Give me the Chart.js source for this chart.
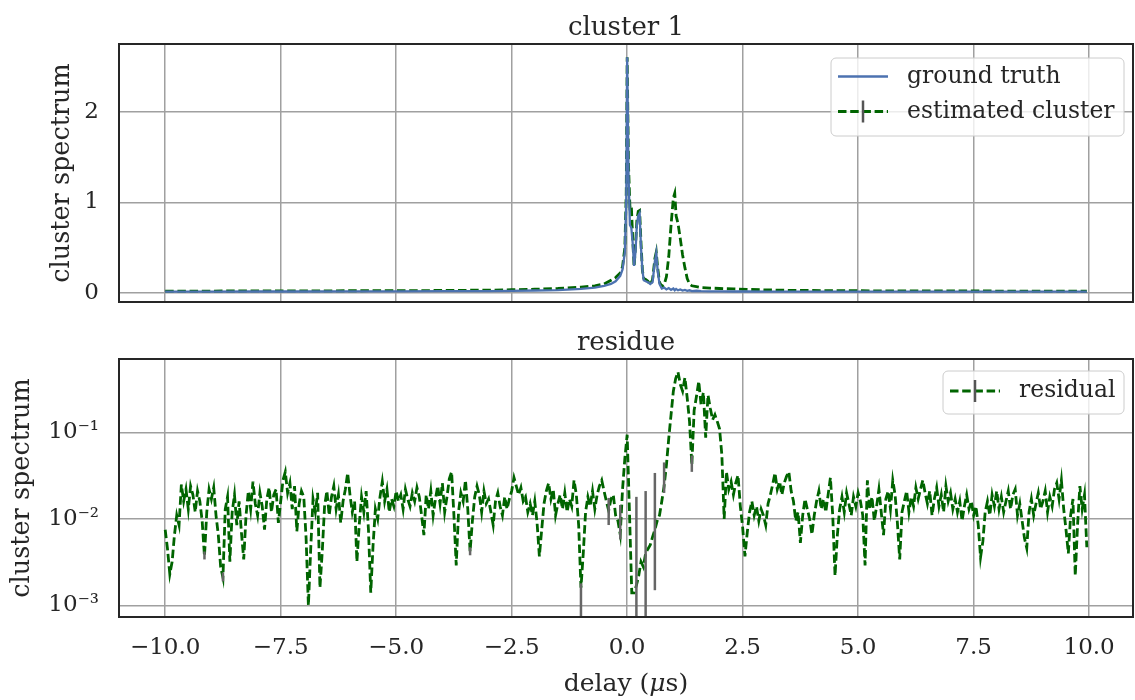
<!DOCTYPE html>
<html><head><meta charset="utf-8">
<script src="https://cdn.jsdelivr.net/npm/chart.js@4.4.0/dist/chart.umd.min.js"></script>
<style>
html,body{margin:0;padding:0;background:#fff;}
#wrap{position:relative;width:1135px;height:700px;overflow:hidden;}
canvas{position:absolute;left:0;}
</style></head><body>
<div id="wrap">
<canvas id="c1" width="1135" height="320" style="top:0;width:1135px;height:320px"></canvas>
<canvas id="c2" width="1135" height="380" style="top:320px;width:1135px;height:380px"></canvas>
</div>
<script>
// ---------------- data ----------------
const xTicks = [-10, -7.5, -5, -2.5, 0, 2.5, 5, 7.5, 10];
const topYTicks = [0, 1, 2];
const resYTicks = [0.001, 0.01, 0.1];
const resYTickLabels = ['10\u207B\u00B3', '10\u207B\u00B2', '10\u207B\u00B9'];

const clusterX = [-10, -9, -8, -7, -6, -5, -4, -3, -2.5, -2, -1.5, -1, -0.7, -0.5, -0.35, -0.25, -0.15, -0.1, -0.05, -0.02,
  0, 0.03, 0.06, 0.09, 0.12, 0.15, 0.18, 0.21, 0.24, 0.27, 0.3, 0.33, 0.36, 0.4, 0.45, 0.5, 0.55, 0.6, 0.63, 0.66,
  0.7, 0.75, 0.8, 0.85, 0.9, 0.95, 1.0, 1.03, 1.06, 1.1, 1.15, 1.2, 1.25, 1.3, 1.35, 1.4, 1.5, 1.6, 1.8, 2.0,
  2.3, 2.6, 3, 3.5, 4, 5, 6, 7, 8, 9, 9.95];
const groundTruth = [0.016, 0.016, 0.017, 0.017, 0.018, 0.019, 0.02, 0.022, 0.024, 0.028, 0.033, 0.045, 0.06, 0.08, 0.1, 0.13, 0.19, 0.26, 0.45, 1.0,
  2.6, 1.3, 0.75, 0.72, 0.55, 0.3, 0.45, 0.75, 0.85, 0.88, 0.5, 0.25, 0.14, 0.13, 0.12, 0.1, 0.12, 0.35, 0.44, 0.25,
  0.1, 0.05, 0.06, 0.04, 0.055, 0.035, 0.05, 0.03, 0.045, 0.03, 0.04, 0.028, 0.035, 0.025, 0.03, 0.022, 0.025, 0.02, 0.019, 0.018,
  0.017, 0.017, 0.016, 0.016, 0.016, 0.016, 0.016, 0.016, 0.016, 0.016, 0.016];
const estimatedCluster = [0.022, 0.022, 0.023, 0.024, 0.025, 0.026, 0.028, 0.032, 0.036, 0.042, 0.05, 0.065, 0.08, 0.1, 0.14, 0.17, 0.22, 0.29, 0.5, 1.1,
  2.6, 1.4, 0.95, 0.97, 0.6, 0.29, 0.5, 0.8, 0.9, 0.91, 0.55, 0.25, 0.16, 0.15, 0.13, 0.09, 0.15, 0.38, 0.45, 0.28,
  0.12, 0.07, 0.09, 0.18, 0.4, 0.75, 1.05, 1.1, 0.85, 0.77, 0.6, 0.42, 0.28, 0.16, 0.1, 0.08, 0.07, 0.06, 0.055, 0.05,
  0.045, 0.04, 0.035, 0.03, 0.028, 0.025, 0.024, 0.023, 0.022, 0.022, 0.022];

const residueX = [
  -10.00, -9.95, -9.90, -9.85, -9.80, -9.75, -9.70, -9.65, -9.60, -9.55, -9.50, -9.45, -9.40, -9.35, -9.30, -9.25, -9.20, -9.15, -9.10, -9.05,
  -9.00, -8.95, -8.90, -8.85, -8.80, -8.75, -8.70, -8.65, -8.60, -8.55, -8.50, -8.45, -8.40, -8.35, -8.30, -8.25, -8.20, -8.15, -8.10, -8.05,
  -8.00, -7.95, -7.90, -7.85, -7.80, -7.75, -7.70, -7.65, -7.60, -7.55, -7.50, -7.45, -7.40, -7.35, -7.30, -7.25, -7.20, -7.15, -7.10, -7.05,
  -7.00, -6.95, -6.90, -6.85, -6.80, -6.75, -6.70, -6.65, -6.60, -6.55, -6.50, -6.45, -6.40, -6.35, -6.30, -6.25, -6.20, -6.15, -6.10, -6.05,
  -6.00, -5.95, -5.90, -5.85, -5.80, -5.75, -5.70, -5.65, -5.60, -5.55, -5.50, -5.45, -5.40, -5.35, -5.30, -5.25, -5.20, -5.15, -5.10, -5.05,
  -5.00, -4.95, -4.90, -4.85, -4.80, -4.75, -4.70, -4.65, -4.60, -4.55, -4.50, -4.45, -4.40, -4.35, -4.30, -4.25, -4.20, -4.15, -4.10, -4.05,
  -4.00, -3.95, -3.90, -3.85, -3.80, -3.75, -3.70, -3.65, -3.60, -3.55, -3.50, -3.45, -3.40, -3.35, -3.30, -3.25, -3.20, -3.15, -3.10, -3.05,
  -3.00, -2.95, -2.90, -2.85, -2.80, -2.75, -2.70, -2.65, -2.60, -2.55, -2.50, -2.45, -2.40, -2.35, -2.30, -2.25, -2.20, -2.15, -2.10, -2.05,
  -2.00, -1.95, -1.90, -1.85, -1.80, -1.75, -1.70, -1.65, -1.60, -1.55, -1.50, -1.45, -1.40, -1.35, -1.30, -1.25, -1.20, -1.15, -1.10, -1.05,
  -1.00, -0.95, -0.90, -0.85, -0.80, -0.75, -0.70, -0.65, -0.60, -0.55, -0.50, -0.45, -0.40, -0.35, -0.30, -0.25, -0.20, -0.15, -0.10, -0.05,
  0.00, 0.05, 0.10, 0.15, 0.20, 0.25, 0.30, 0.35, 0.40, 0.45, 0.50, 0.55, 0.60, 0.65, 0.70, 0.75, 0.80, 0.85, 0.90, 0.95,
  1.00, 1.05, 1.10, 1.15, 1.20, 1.25, 1.30, 1.35, 1.40, 1.45, 1.50, 1.55, 1.60, 1.65, 1.70, 1.75, 1.80, 1.85, 1.90, 1.95,
  2.00, 2.05, 2.10, 2.15, 2.20, 2.25, 2.30, 2.35, 2.40, 2.45, 2.50, 2.55, 2.60, 2.65, 2.70, 2.75, 2.80, 2.85, 2.90, 2.95,
  3.00, 3.05, 3.10, 3.15, 3.20, 3.25, 3.30, 3.35, 3.40, 3.45, 3.50, 3.55, 3.60, 3.65, 3.70, 3.75, 3.80, 3.85, 3.90, 3.95,
  4.00, 4.05, 4.10, 4.15, 4.20, 4.25, 4.30, 4.35, 4.40, 4.45, 4.50, 4.55, 4.60, 4.65, 4.70, 4.75, 4.80, 4.85, 4.90, 4.95,
  5.00, 5.05, 5.10, 5.15, 5.20, 5.25, 5.30, 5.35, 5.40, 5.45, 5.50, 5.55, 5.60, 5.65, 5.70, 5.75, 5.80, 5.85, 5.90, 5.95,
  6.00, 6.05, 6.10, 6.15, 6.20, 6.25, 6.30, 6.35, 6.40, 6.45, 6.50, 6.55, 6.60, 6.65, 6.70, 6.75, 6.80, 6.85, 6.90, 6.95,
  7.00, 7.05, 7.10, 7.15, 7.20, 7.25, 7.30, 7.35, 7.40, 7.45, 7.50, 7.55, 7.60, 7.65, 7.70, 7.75, 7.80, 7.85, 7.90, 7.95,
  8.00, 8.05, 8.10, 8.15, 8.20, 8.25, 8.30, 8.35, 8.40, 8.45, 8.50, 8.55, 8.60, 8.65, 8.70, 8.75, 8.80, 8.85, 8.90, 8.95,
  9.00, 9.05, 9.10, 9.15, 9.20, 9.25, 9.30, 9.35, 9.40, 9.45, 9.50, 9.55, 9.60, 9.65, 9.70, 9.75, 9.80, 9.85, 9.90, 9.95];
const residual = [
  0.0075, 0.0045, 0.0023, 0.0032, 0.0065, 0.011, 0.0085, 0.025, 0.016, 0.022, 0.013, 0.024, 0.019, 0.012, 0.021, 0.016, 0.0095, 0.0037, 0.012, 0.022,
  0.017, 0.023, 0.011, 0.0065, 0.0028, 0.0021, 0.013, 0.018, 0.0032, 0.012, 0.019, 0.0085, 0.016, 0.007, 0.0034, 0.011, 0.021, 0.013, 0.027, 0.015,
  0.011, 0.02, 0.014, 0.0075, 0.017, 0.023, 0.012, 0.019, 0.022, 0.009, 0.016, 0.028, 0.035, 0.02, 0.026, 0.013, 0.024, 0.0072, 0.015, 0.021,
  0.018, 0.006, 0.001, 0.0045, 0.017, 0.012, 0.02, 0.0016, 0.0042, 0.014, 0.021, 0.011, 0.018, 0.024, 0.013, 0.019, 0.009, 0.016, 0.022, 0.034,
  0.019, 0.012, 0.016, 0.0032, 0.0085, 0.018, 0.012, 0.021, 0.0075, 0.0014, 0.005, 0.013, 0.01, 0.018, 0.027, 0.016, 0.022, 0.012, 0.017, 0.014,
  0.021, 0.016, 0.019, 0.013, 0.022, 0.017, 0.014, 0.02, 0.016, 0.023, 0.018, 0.011, 0.0065, 0.019, 0.013, 0.021, 0.011, 0.017, 0.024, 0.015,
  0.026, 0.012, 0.018, 0.029, 0.035, 0.011, 0.0029, 0.012, 0.02, 0.016, 0.028, 0.013, 0.0042, 0.0095, 0.018, 0.024, 0.019, 0.012, 0.021, 0.015,
  0.017, 0.012, 0.0085, 0.016, 0.02, 0.014, 0.011, 0.018, 0.013, 0.017, 0.021, 0.03, 0.024, 0.019, 0.023, 0.016, 0.018, 0.012, 0.015, 0.011,
  0.016, 0.009, 0.0037, 0.0075, 0.015, 0.021, 0.026, 0.017, 0.022, 0.011, 0.015, 0.019, 0.013, 0.02, 0.012, 0.017, 0.014, 0.028, 0.019, 0.0085,
  0.0016, 0.004, 0.012, 0.018, 0.014, 0.021, 0.013, 0.019, 0.024, 0.028, 0.021, 0.016, 0.0125, 0.017, 0.019, 0.011, 0.0095, 0.0066, 0.022, 0.05,
  0.094, 0.012, 0.0014, 0.0014, 0.0017, 0.0022, 0.0032, 0.0028, 0.004, 0.0045, 0.005, 0.0062, 0.0075, 0.0095, 0.011, 0.016, 0.024, 0.042, 0.085, 0.16,
  0.30, 0.42, 0.50, 0.36, 0.30, 0.43, 0.25, 0.134, 0.042, 0.18, 0.26, 0.39, 0.21, 0.29, 0.087, 0.27, 0.19, 0.14, 0.16, 0.134,
  0.11, 0.055, 0.010, 0.035, 0.022, 0.027, 0.019, 0.026, 0.032, 0.014, 0.008, 0.0037, 0.007, 0.012, 0.016, 0.011, 0.014, 0.0095, 0.013, 0.011,
  0.0085, 0.015, 0.019, 0.025, 0.034, 0.022, 0.027, 0.019, 0.026, 0.031, 0.035, 0.021, 0.016, 0.0095, 0.012, 0.0053, 0.011, 0.017, 0.013, 0.01,
  0.0066, 0.011, 0.016, 0.021, 0.013, 0.017, 0.012, 0.019, 0.03, 0.011, 0.0022, 0.0065, 0.013, 0.018, 0.012, 0.02, 0.015, 0.011, 0.018, 0.014,
  0.02, 0.016, 0.011, 0.0029, 0.028, 0.013, 0.018, 0.0095, 0.014, 0.022, 0.012, 0.0065, 0.017, 0.021, 0.013, 0.028, 0.019, 0.009, 0.0034, 0.012,
  0.016, 0.021, 0.012, 0.018, 0.014, 0.023, 0.017, 0.022, 0.028, 0.02, 0.015, 0.021, 0.011, 0.017, 0.023, 0.014, 0.019, 0.012, 0.024, 0.016,
  0.02, 0.013, 0.017, 0.012, 0.016, 0.0095, 0.014, 0.019, 0.013, 0.016, 0.011, 0.014, 0.0085, 0.0036, 0.0055, 0.012, 0.016, 0.011, 0.019, 0.014,
  0.021, 0.013, 0.018, 0.012, 0.016, 0.021, 0.013, 0.019, 0.022, 0.011, 0.015, 0.0095, 0.006, 0.0046, 0.012, 0.017, 0.011, 0.015, 0.02, 0.013,
  0.016, 0.021, 0.012, 0.018, 0.014, 0.022, 0.026, 0.017, 0.028, 0.013, 0.0075, 0.004, 0.011, 0.017, 0.0022, 0.0085, 0.024, 0.013, 0.019, 0.0047];
// error bars of the residual (x, lower end, upper end)
const residualErrX  = [-9.15, -8.75, -3.40, -1.00, -0.40, -0.15, 0.20, 0.40, 0.60, 0.80, 1.40];
const residualErrLo = [0.0034, 0.0019, 0.0038, 0.0001, 0.0085, 0.0058, 0.0001, 0.0001, 0.0015, 0.02, 0.035];
const residualErrHi = [0.0042, 0.0024, 0.0047, 0.0018, 0.0175, 0.0145, 0.018, 0.021, 0.034, 0.045, 0.054];

// ---------------- styling ----------------
const FONT = "'DejaVu Serif', serif";
const TXT = '#262626';
const GRID = '#a0a0a0';
const BLUE = '#4c72b0';
const GREEN = '#006400';
const ERRC = '#666666';
const DASH = [8.5, 3.7];
Chart.defaults.font.family = FONT;
Chart.defaults.color = TXT;
Chart.defaults.animation = false;

const pts = (xs, ys) => xs.map((x, i) => ({x, y: ys[i]}));
const setTicks = vals => scale => { scale.ticks = vals.map(v => ({value: v})); };
const minus = v => (v < 0 ? '\u2212' : '') + Math.abs(v).toFixed(1);
const noPad = s => { s.paddingTop = 0; s.paddingBottom = 0; };

const framePlugin = {
  id: 'frame',
  afterDraw(chart) {
    const {ctx, chartArea: a} = chart;
    const o = chart.options.plugins.frame || {};
    ctx.save();
    if (o.title) {
      ctx.font = `${o.titleSize}px ${FONT}`;
      ctx.fillStyle = TXT;
      ctx.textAlign = 'center';
      ctx.textBaseline = 'alphabetic';
      ctx.fillText(o.title, (a.left + a.right) / 2, a.top - 9);
    }
    if (o.xlabel) {
      const parts = o.xlabel;
      let total = 0;
      const widths = parts.map(p => { ctx.font = `${p.italic ? 'italic ' : ''}${o.xlabelSize}px ${FONT}`; const w = ctx.measureText(p.t).width; total += w; return w; });
      let x = (a.left + a.right) / 2 - total / 2;
      ctx.fillStyle = TXT; ctx.textAlign = 'left'; ctx.textBaseline = 'alphabetic';
      parts.forEach((p, i) => { ctx.font = `${p.italic ? 'italic ' : ''}${o.xlabelSize}px ${FONT}`; ctx.fillText(p.t, x, o.xlabelY); x += widths[i]; });
    }
    if (o.legend) {
      const L = o.legend;
      const bx = a.right - 9 - L.w, by = a.top + L.dy;
      ctx.beginPath();
      ctx.roundRect(bx, by, L.w, L.h, 5);
      ctx.fillStyle = 'rgba(255,255,255,0.8)';
      ctx.fill();
      ctx.strokeStyle = '#cccccc'; ctx.lineWidth = 1;
      ctx.stroke();
      L.items.forEach((it, i) => {
        const cy = by + L.first + i * L.step;
        const x0 = bx + 7, x1 = bx + 57;
        ctx.save();
        ctx.strokeStyle = it.color; ctx.lineWidth = it.width;
        ctx.setLineDash(it.dash || []);
        ctx.beginPath(); ctx.moveTo(x0, cy); ctx.lineTo(x1, cy); ctx.stroke();
        ctx.restore();
        if (it.err) {
          ctx.strokeStyle = '#555555'; ctx.lineWidth = 2.5;
          ctx.beginPath(); ctx.moveTo((x0 + x1) / 2, cy - 11); ctx.lineTo((x0 + x1) / 2, cy + 11); ctx.stroke();
        }
        ctx.font = `${L.size}px ${FONT}`;
        ctx.fillStyle = TXT; ctx.textAlign = 'left'; ctx.textBaseline = 'middle';
        ctx.fillText(it.label, bx + 76, cy);
      });
    }
    ctx.strokeStyle = '#262626'; ctx.lineWidth = 2;
    ctx.strokeRect(a.left, a.top, a.right - a.left, a.bottom - a.top);
    ctx.restore();
  }
};

const errPlugin = {
  id: 'errbars',
  afterDatasetsDraw(chart) {
    const o = chart.options.plugins.errbars;
    if (!o) return;
    const {ctx, chartArea: a, scales: {x, y}} = chart;
    ctx.save();
    ctx.beginPath(); ctx.rect(a.left, a.top, a.right - a.left, a.bottom - a.top); ctx.clip();
    ctx.strokeStyle = ERRC; ctx.lineWidth = 2.5;
    o.x.forEach((xv, i) => {
      const px = x.getPixelForValue(xv);
      const lo = Math.max(o.lo[i], y.min * 0.5);
      ctx.beginPath();
      ctx.moveTo(px, y.getPixelForValue(lo));
      ctx.lineTo(px, y.getPixelForValue(o.hi[i]));
      ctx.stroke();
    });
    ctx.restore();
  }
};

const gridOpts = {color: GRID, lineWidth: 1.5, drawTicks: false};

// ---------------- top panel ----------------
new Chart(document.getElementById('c1'), {
  type: 'line',
  data: {
    datasets: [
      {label: 'ground truth', data: pts(clusterX, groundTruth), borderColor: BLUE, borderWidth: 2.3, pointRadius: 0, tension: 0},
      {label: 'estimated cluster', data: pts(clusterX, estimatedCluster), borderColor: GREEN, borderWidth: 2.8, borderDash: DASH, pointRadius: 0, tension: 0}
    ]
  },
  options: {
    responsive: false, devicePixelRatio: 1,
    layout: {padding: {left: 0, right: 2, top: 44, bottom: 18}},
    plugins: {
      legend: {display: false}, tooltip: {enabled: false},
      frame: {
        title: 'cluster 1', titleSize: 26,
        legend: {w: 293, h: 78, dy: 14, first: 18.5, step: 35, size: 23.5,
          items: [
            {label: 'ground truth', color: BLUE, width: 2.3},
            {label: 'estimated cluster', color: GREEN, width: 2.8, dash: DASH, err: true}
          ]}
      }
    },
    scales: {
      x: {type: 'linear', min: -11.0, max: 10.95, afterBuildTicks: setTicks(xTicks),
        ticks: {display: false}, grid: gridOpts, border: {display: false},
        afterFit: s => { s.height = 0; }},
      y: {type: 'linear', min: -0.099, max: 2.747, afterBuildTicks: setTicks(topYTicks),
        ticks: {font: {size: 23}, padding: 20, callback: v => String(v)},
        grid: gridOpts, border: {display: false},
        title: {display: true, text: 'cluster spectrum', font: {size: 25.5}, padding: {top: 46.7, bottom: 0}},
        afterFit: s => { s.width = 119; noPad(s); }}
    }
  },
  plugins: [errPlugin, framePlugin]
});

// ---------------- bottom panel ----------------
new Chart(document.getElementById('c2'), {
  type: 'line',
  data: {
    datasets: [
      {label: 'residual', data: pts(residueX, residual), borderColor: GREEN, borderWidth: 2.8, borderDash: DASH, pointRadius: 0, tension: 0}
    ]
  },
  options: {
    responsive: false, devicePixelRatio: 1,
    layout: {padding: {left: 0, right: 2, top: 39, bottom: 0}},
    plugins: {
      legend: {display: false}, tooltip: {enabled: false},
      errbars: {x: residualErrX, lo: residualErrLo, hi: residualErrHi},
      frame: {
        title: 'residue', titleSize: 26,
        xlabel: [{t: 'delay ('}, {t: '\u03BC', italic: true}, {t: 's)'}], xlabelSize: 25, xlabelY: 371,
        legend: {w: 181, h: 43, dy: 12, first: 20, step: 35, size: 23.5,
          items: [
            {label: 'residual', color: GREEN, width: 2.8, dash: DASH, err: true}
          ]}
      }
    },
    scales: {
      x: {type: 'linear', min: -11.0, max: 10.95, afterBuildTicks: setTicks(xTicks),
        ticks: {font: {size: 23}, padding: 17, callback: v => minus(v), maxRotation: 0},
        grid: gridOpts, border: {display: false},
        afterFit: s => { s.height = 83; }},
      y: {type: 'logarithmic', min: 0.000735, max: 0.706, afterBuildTicks: setTicks(resYTicks),
        ticks: {font: {size: 23}, padding: 20, callback: (v, i) => resYTickLabels[i]},
        grid: gridOpts, border: {display: false},
        title: {display: true, text: 'cluster spectrum', font: {size: 25.5}, padding: {top: 6.7, bottom: 0}},
        afterFit: s => { s.width = 119; noPad(s); }}
    }
  },
  plugins: [errPlugin, framePlugin]
});
</script>
</body></html>
